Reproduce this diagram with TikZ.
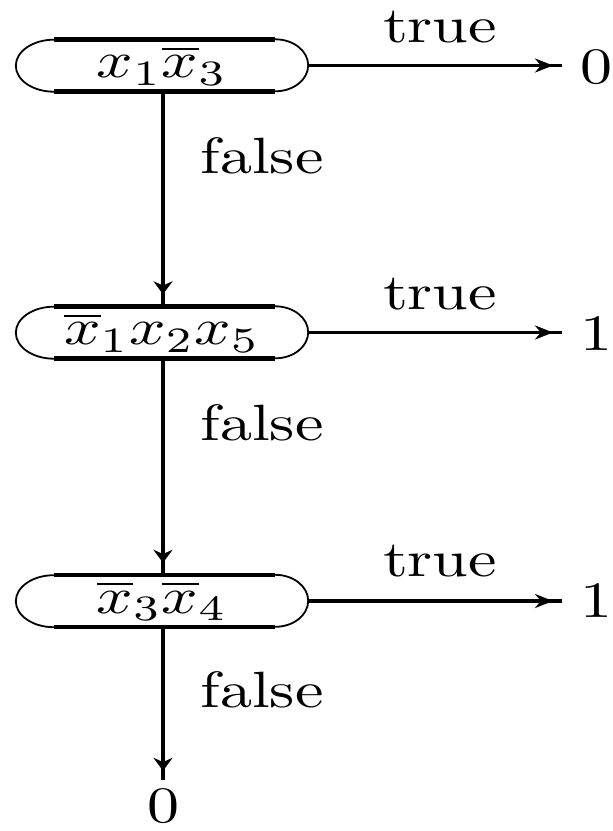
\documentclass[tikz,border=0pt]{standalone}
\usetikzlibrary{arrows.meta,calc}
\newcommand\sx[1]{\scalebox{6.4}[5.1]{#1}}
\tikzset{
  boxnode/.style={rectangle,minimum width=292pt,minimum height=52pt,inner sep=0pt},
  lbl/.style={inner sep=0pt,anchor=base},
  edge/.style={line width=3.3pt},
  vedge/.style={line width=4pt},
  htip/.style={-{Stealth[length=18pt,width=14pt]},line width=3.3pt},
  vtip/.style={-{Stealth[length=13pt,width=19pt]},line width=4pt},
  arcline/.style={line width=1.8pt},
  flatline/.style={line width=4.5pt}
}
\begin{document}
\begin{tikzpicture}[x=1pt,y=1pt]
\useasboundingbox (0,0) rectangle (613,-831);
% boxes
\node[boxnode] (n1) at (162,-65.5) {\sx{$x_1\overline{x}_3$}};
\node[boxnode] (n2) at (162,-332.5) {\sx{$\overline{x}_1x_2x_5$}};
\node[boxnode] (n3) at (162,-601) {\sx{$\overline{x}_3\overline{x}_4$}};
\foreach \n in {n1,n2,n3}{
  \draw[flatline] ($(\n.north west)+(38,0)$) -- ($(\n.north east)+(-33,0)$);
  \draw[flatline] ($(\n.south west)+(38,0)$) -- ($(\n.south east)+(-33,0)$);
  \draw[arcline] ($(\n.north east)+(-33,0)$) arc[start angle=90,end angle=-90,x radius=33,y radius=26];
  \draw[arcline] ($(\n.south west)+(38,0)$) arc[start angle=-90,end angle=-270,x radius=38,y radius=26];
}
% right targets
\node[lbl,anchor=base west] (t1) at (580,-83) {\sx{0}};
\node[lbl,anchor=base west] (t2) at (580,-350) {\sx{1}};
\node[lbl,anchor=base west] (t3) at (580,-617) {\sx{1}};
\node[lbl] (b0) at (163,-822) {\sx{0}};
% labels
\node[lbl] (tr1) at (440,-42) {\sx{true}};
\node[lbl] (tr2) at (440,-309) {\sx{true}};
\node[lbl] (tr3) at (440,-576) {\sx{true}};
\node[lbl] (f1) at (262,-173) {\sx{false}};
\node[lbl] (f2) at (262,-440) {\sx{false}};
\node[lbl] (f3) at (262,-707) {\sx{false}};
% horizontal arrows
\foreach \a/\b in {n1/t1,n2/t2,n3/t3}{
  \draw[edge] (\a.east) -- ($(\a.east -| \b.west)+(-18,0)$);
  \draw[htip] ($(\a.east -| \b.west)+(-50,0)$) -- ($(\a.east -| \b.west)+(-27,0)$);
}
% vertical arrows
\draw[vedge] ($(n1.south)+(1,0)$) -- ($(n2.north)+(1,0)$);
\draw[vtip] ($(n2.north)+(1,35)$) -- ($(n2.north)+(1,12)$);
\draw[vedge] ($(n2.south)+(1,0)$) -- ($(n3.north)+(1,0)$);
\draw[vtip] ($(n3.north)+(1,35)$) -- ($(n3.north)+(1,12)$);
\draw[vedge] ($(n3.south)+(1,0)$) -- ($(b0.north)+(0,8)$);
\draw[vtip] ($(b0.north)+(0,38)$) -- ($(b0.north)+(0,17)$);
\end{tikzpicture}
\end{document}
